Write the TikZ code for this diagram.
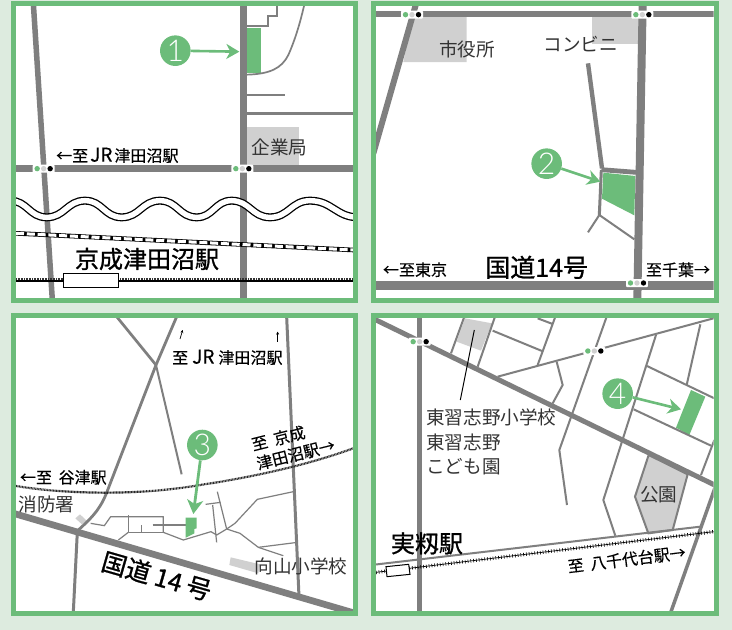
\documentclass[tikz,border=0pt]{standalone}
\usepackage{fontspec}
\setmainfont{Noto Sans CJK JP}
\newfontfamily\medfont[FakeBold=0.4]{Noto Sans CJK JP}
\newfontfamily\heavyfont[FakeBold=1.0]{Noto Sans CJK JP}
\newfontfamily\badgefont[UprightFont=*-Light]{Lato}
\usetikzlibrary{arrows.meta}
\definecolor{grn}{HTML}{6CBC7A}
\definecolor{bgc}{HTML}{DDEBDF}
\definecolor{roadc}{HTML}{7F7F7F}
\definecolor{blockc}{HTML}{D0D0D0}
\definecolor{txtc}{HTML}{333333}
\newcommand\signalat[2]{%
 \fill[white,rounded corners=1pt] (#1-33,#2-12) rectangle (#1+33,#2+12);
 \fill[grn] (#1-19.5,#2) circle (2.7pt);
 \fill[blockc] (#1,#2) circle (2.7pt);
 \fill[black] (#1+19.5,#2) circle (2.7pt);}
\newcommand\JRtext{\hspace{2pt}{\fontsize{19}{19}\selectfont JR}\hspace{2pt}}
\newcommand\riverpath{(30,602) to[out=0,in=180,looseness=1.1] (140,652) to[out=0,in=180,looseness=1.1] (255,602)
  to[out=0,in=180,looseness=1.1] (365,652) to[out=0,in=180,looseness=1.1] (480,602)
  to[out=0,in=180,looseness=1.1] (590,652) to[out=0,in=180,looseness=1.1] (695,602)
  to[out=0,in=180,looseness=1.1] (810,652) to[out=0,in=180,looseness=1.1] (930,602)
  to[out=0,in=180,looseness=1.1] (1075,652)}
\tikzset{
 road/.style={draw=roadc,line join=miter},
 lane/.style={draw=roadc,line width=2pt,line join=round},
 thinlane/.style={draw=roadc,line width=1.2pt,line join=round},
 label/.style={inner sep=0pt,text=txtc,font=\fontsize{18.6}{18.6}\selectfont},
 dest/.style={inner sep=0pt,text=black,font=\medfont\fontsize{16}{16}\selectfont},
 big/.style={inner sep=0pt,text=black,font=\heavyfont\fontsize{24}{24}\selectfont},
 badge/.style={circle,fill=grn,text=white,minimum size=30.6pt,inner sep=0pt,font=\badgefont\fontsize{30}{30}\selectfont},
 arr/.style={draw=grn,line width=2.6pt,-{Stealth[length=13pt,width=15pt,inset=4pt]}},
 panel/.style={x=0.33333pt,y=-0.33333pt},
 frame/.style={draw=grn,line width=5pt,fill=none},
 rail/.style={draw=black,line width=1.4pt},
 railhatch/.style={draw=black!80,line width=3.4pt,dash pattern=on .9pt off .7pt},
}
\begin{document}
\begin{tikzpicture}[x=1pt,y=-1pt]
\fill[bgc] (0,0) rectangle (732,630);
\useasboundingbox (0,0) rectangle (732,630);
\fill[white] (13.5,3.3) rectangle (355.8,300.2);
\fill[white] (373.5,3.3) rectangle (716.2,300.2);
\fill[white] (13.5,315.7) rectangle (355.8,613);
\fill[white] (373.5,315.7) rectangle (716.2,613);

% ---------- panel 1
\begin{scope}[shift={(0,0)},panel]
\clip (48,18) rectangle (1060,893);
\fill[blockc] (741,381) rectangle (897,495);
\fill[grn] (741,83) rectangle (783,218);
\draw[road,line width=5.5pt] (100,10) -- (157,900);
\draw[road,line width=7pt] (730,10) -- (730,900);
\draw[road,line width=6.5pt] (40,505) -- (1070,505);
\draw[road,line width=2.2pt] (832,18) -- (832,48) -- (803,48) -- (803,78) -- (741,78);
\draw[road,line width=1.7pt] (741,224) .. controls (810,222) and (845,205) .. (865,165) .. controls (885,120) and (900,70) .. (912,18);
\draw[road,line width=1.6pt] (741,285) -- (855,285);
\draw[road,line width=2.6pt] (741,340) -- (1065,340);
\signalat{131}{506}
\signalat{727}{506}
\draw[black,line width=8pt] \riverpath;
\draw[white,line width=5.4pt] \riverpath;
\draw[black,line width=4.6pt] (48,700) -- (1060,750);
\draw[white,line width=3pt,dash pattern=on 8pt off 2.8pt] (48,700) -- (1060,750);
\draw[railhatch] (48,839) -- (1060,839);
\draw[rail] (48,843) -- (1060,843);
\node[draw=black,fill=white,line width=1pt,minimum width=55pt,minimum height=14pt,inner sep=0pt] (st1) at (273,841) {};
\node[label] (kigyo) at (838,443) {企業局};
\node[dest] (tojr1) at (352,466) {←至\JRtext 津田沼駅};
\node[big] (keisei) at (441,777) {京成津田沼駅};
\node[badge] (b1) at (526,152) {1};
\coordinate (t1) at (718,155);
\draw[arr] (b1) -- (t1);
\end{scope}

% ---------- panel 2
\begin{scope}[shift={(366,0)},panel]
\clip (30,18) rectangle (1043,893);
\fill[blockc] (140,50) -- (302,50) -- (302,186) -- (112,186) -- cycle;
\fill[blockc] (678,50) rectangle (825,133);
\fill[grn] (712,518) -- (808,528) -- (805,646) -- (708,596) -- cycle;
\draw[road,line width=6pt] (152,5) -- (22,460);
\draw[road,line width=6pt] (20,42) -- (1050,42);
\draw[road,line width=9pt] (20,856) -- (1050,856);
\draw[road,line width=8pt] (830,10) -- (814,900);
\draw[road,line width=4.4pt] (666,190) -- (708,505);
\draw[road,line width=4.8pt] (706,509) -- (810,517);
\draw[road,line width=3pt] (706,510) -- (700,645);
\draw[road,line width=2pt] (700,645) -- (805,718);
\draw[road,line width=2pt] (700,645) -- (666,697);
\signalat{138}{44}
\signalat{829}{44}
\signalat{813}{849}
\node[label] (shiyaku) at (303,148) {市役所};
\node[label] (konbini) at (645,133) {コンビニ};
\node[big,font=\heavyfont\fontsize{25}{25}\selectfont] (r14a) at (512,802) {国道14号};
\node[dest] (tokyo) at (147,809) {←至東京};
\node[dest] (chiba) at (936,809) {至千葉→};
\node[badge] (b2) at (542,491) {2};
\coordinate (t2) at (703,545);
\draw[arr] (b2) -- (t2);
\end{scope}

% ---------- panel 3
\begin{scope}[shift={(0,315)},panel]
\clip (48,10) rectangle (1060,885);
\fill[blockc] (226,610) -- (240,598) -- (260,617) -- (246,628) -- cycle;
\fill[blockc] (692,727) -- (780,748) -- (775,775) -- (688,750) -- cycle;
\draw[road,line width=2.7pt] (350,5) -- (468,150);
\draw[road,line width=2pt] (468,150) -- (545,478);
\draw[road,line width=2.8pt,line join=round] (530,5) -- (468,150) -- (325,520) .. controls (305,575) and (285,600) .. (235,645);
\draw[road,line width=3pt] (860,5) -- (897,845);
\draw[road,line width=3pt] (232,650) -- (220,890);
\draw[road,line width=6.7pt] (30,592) -- (1100,905);
\draw[draw=black!85,line width=2.2pt,dash pattern=on .9pt off .6pt] (48,513) .. controls (180,535) and (400,545) .. (600,510) .. controls (800,480) and (950,440) .. (1060,400);
\draw[thinlane] (272,625) -- (313,632) -- (332,605) -- (490,605) -- (490,652) -- (550,675) -- (633,650) -- (650,660) -- (680,642) -- (720,655) -- (775,697) -- (850,722);
\draw[thinlane] (385,600) -- (385,652) -- (490,652);
\draw[thinlane] (355,675) -- (385,652);
\draw[thinlane] (425,630) -- (425,652);
\draw[thinlane] (458,630) -- (557,630);
\draw[thinlane] (652,530) -- (680,642);
\draw[thinlane] (617,568) -- (662,562);
\draw[thinlane] (638,570) -- (650,682);
\draw[thinlane] (680,642) -- (705,625) -- (772,553) -- (880,530);
\draw[thinlane] (775,697) -- (885,683);
\fill[grn] (557,608) -- (590,608) -- (590,640) -- (583,642) -- (583,655) -- (557,668) -- cycle;
\node[label] (shobo) at (140,568) {消防署};
\node[label] (mukai) at (903,755) {向山小学校};
\node[big,rotate=-16,font=\heavyfont\fontsize{25}{25}\selectfont] (r14b) at (470,783) {国道\hspace{5pt}14\hspace{5pt}号};
\node[dest] (tojr2) at (682,127) {至\hspace{2pt}\JRtext\hspace{2pt}津田沼駅};
\node[dest,rotate=14] (kei1) at (835,370) {至\hspace{3pt} 京成};
\node[dest,rotate=14] (kei2) at (887,418) {津田沼駅→};
\node[dest] (yatsu) at (190,487) {←至\hspace{3pt} 谷津駅};
\coordinate (a1s) at (540,72); \coordinate (a1e) at (548,45);
\coordinate (a2s) at (833,80); \coordinate (a2e) at (833,50);
\draw[black,line width=.7pt,-{Stealth[length=3pt,width=3pt]}] (a1s) -- (a1e);
\draw[black,line width=.7pt,-{Stealth[length=3pt,width=3pt]}] (a2s) -- (a2e);
\node[badge] (b3) at (607,390) {3};
\coordinate (t3) at (580,597);
\draw[arr,line width=2.8pt,-{Stealth[length=14pt,width=16pt,inset=4pt]}] (b3) -- (t3);
\end{scope}

% ---------- panel 4
\begin{scope}[shift={(366,315)},panel]
\clip (30,10) rectangle (1043,885);
\fill[blockc] (297,10) -- (378,25) -- (345,107) -- (272,80) -- cycle;
\filldraw[fill=blockc,draw=roadc,line width=2pt] (848,420) -- (965,478) -- (920,645) -- (847,655) -- (807,545) -- cycle;
\fill[grn] (975,225) -- (1018,245) -- (970,360) -- (930,338) -- cycle;
\draw[road,line width=4.7pt] (160,5) -- (160,890);
\draw[lane] (395,185) -- (1050,8);
\draw[lane] (295,5) -- (255,115);
\draw[lane] (387,5) -- (335,155);
\draw[lane] (380,47) -- (528,108);
\draw[lane] (515,150) -- (568,5);
\draw[lane] (515,10) -- (560,27);
\draw[lane] (572,140) -- (590,210) -- (560,265);
\draw[lane] (722,5) -- (580,405) -- (603,570);
\draw[lane] (870,60) -- (712,555) -- (748,662);
\draw[lane] (1003,28) -- (962,210);
\draw[lane] (843,153) -- (1045,250);
\draw[lane] (803,283) -- (1035,392);
\draw[lane] (1045,375) -- (1005,480);
\draw[road,line width=5pt] (20,10) -- (1050,512);
\draw[lane] (25,749) -- (1003,635);
\draw[road,line width=3.5pt] (1050,510) -- (915,890);
\draw[black,line width=.7pt] (30,772) -- (1043,650);
\draw[black,line width=3.5pt,dash pattern=on .6pt off 2.2pt] (30,772) -- (1043,650);
\filldraw[fill=white,draw=black,line width=1pt] (60,755) -- (128,748) -- (132,778) -- (63,785) -- cycle;
\signalat{161}{80}
\signalat{685}{108}
\coordinate (p1) at (325,45); \coordinate (p2) at (283,255);
\draw[black,line width=1pt] (p1) -- (p2);
\node[label,anchor=west] (sch1) at (180,308) {東習志野小学校};
\node[label,anchor=west] (sch2) at (180,381) {東習志野};
\node[label,anchor=west] (sch3) at (180,455) {こども園};
\node[label] (koen) at (878,540) {公園};
\node[big] (mimomi) at (183,685) {実籾駅};
\node[dest,rotate=7] (yachiyo) at (782,733) {至\hspace{3pt} 八千代台駅→};
\node[badge] (b4) at (755,236) {4};
\coordinate (t4) at (945,283);
\draw[arr] (b4) -- (t4);
\end{scope}

\draw[frame] (13.5,3.3) rectangle (355.8,300.2);
\draw[frame] (373.5,3.3) rectangle (716.2,300.2);
\draw[frame] (13.5,315.7) rectangle (355.8,613);
\draw[frame] (373.5,315.7) rectangle (716.2,613);
\end{tikzpicture}
\end{document}
